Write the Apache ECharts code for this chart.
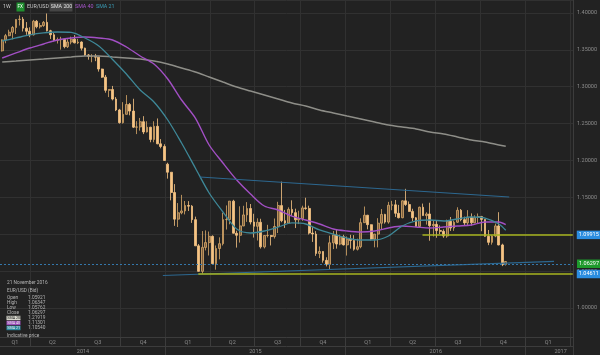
<!DOCTYPE html>
<html>
<head>
<meta charset="utf-8">
<title>EUR/USD 1W</title>
<script src="https://cdn.jsdelivr.net/npm/echarts@6/dist/echarts.min.js"></script>
<style>
  html, body { margin: 0; padding: 0; background: #222222; }
  #chart { width: 600px; height: 355px; }
</style>
</head>
<body>
<div id="chart"></div>
<script>
// time span of the x axis (one category per day)
var firstDay = '2014-01-30';
var lastDay = '2017-04-06';
var firstWeek = '2014-02-03';

// weekly candles, one row per week from firstWeek: [open, high, low, close]
var ohlc2014 = [
  [1.3487, 1.3643, 1.3477, 1.3634], [1.3634, 1.3716, 1.3589, 1.3692], [1.3692, 1.3773, 1.3685, 1.3739],
  [1.3739, 1.3823, 1.3642, 1.3803], [1.3803, 1.3915, 1.3715, 1.3912], [1.3912, 1.3967, 1.3830, 1.3916],
  [1.3916, 1.3946, 1.3749, 1.3794], [1.3794, 1.3877, 1.3704, 1.3752], [1.3752, 1.3806, 1.3672, 1.3704],
  [1.3704, 1.3906, 1.3695, 1.3888], [1.3888, 1.3905, 1.3792, 1.3813], [1.3813, 1.3866, 1.3790, 1.3830],
  [1.3830, 1.3891, 1.3812, 1.3873], [1.3873, 1.3993, 1.3750, 1.3759], [1.3759, 1.3772, 1.3648, 1.3705],
  [1.3705, 1.3731, 1.3614, 1.3630], [1.3630, 1.3667, 1.3586, 1.3637], [1.3637, 1.3677, 1.3503, 1.3643],
  [1.3643, 1.3650, 1.3521, 1.3543], [1.3543, 1.3644, 1.3525, 1.3606], [1.3606, 1.3678, 1.3575, 1.3645],
  [1.3645, 1.3700, 1.3588, 1.3595], [1.3595, 1.3649, 1.3578, 1.3606], [1.3606, 1.3616, 1.3492, 1.3523],
  [1.3523, 1.3530, 1.3418, 1.3431], [1.3431, 1.3444, 1.3367, 1.3411], [1.3411, 1.3442, 1.3332, 1.3412],
  [1.3412, 1.3445, 1.3347, 1.3401], [1.3401, 1.3405, 1.3205, 1.3240], [1.3240, 1.3245, 1.3120, 1.3130],
  [1.3130, 1.3160, 1.2919, 1.2951], [1.2951, 1.2965, 1.2860, 1.2963], [1.2963, 1.3011, 1.2815, 1.2833],
  [1.2833, 1.2860, 1.2670, 1.2685], [1.2685, 1.2700, 1.2500, 1.2513], [1.2513, 1.2791, 1.2501, 1.2626],
  [1.2626, 1.2887, 1.2623, 1.2760], [1.2760, 1.2780, 1.2613, 1.2670], [1.2670, 1.2837, 1.2440, 1.2452],
  [1.2452, 1.2533, 1.2358, 1.2455], [1.2455, 1.2577, 1.2405, 1.2526], [1.2526, 1.2601, 1.2358, 1.2387],
  [1.2387, 1.2532, 1.2380, 1.2451], [1.2451, 1.2457, 1.2247, 1.2285], [1.2285, 1.2532, 1.2247, 1.2464],
  [1.2464, 1.2570, 1.2221, 1.2226], [1.2226, 1.2290, 1.2165, 1.2190], [1.2190, 1.2220, 1.1995, 1.2000]
];
var ohlc2015 = [
  [1.1950, 1.1970, 1.1754, 1.1841], [1.1841, 1.1843, 1.1460, 1.1566], [1.1566, 1.1680, 1.1114, 1.1205],
  [1.1205, 1.1423, 1.1098, 1.1291], [1.1291, 1.1534, 1.1271, 1.1316], [1.1316, 1.1451, 1.1269, 1.1390],
  [1.1390, 1.1449, 1.1315, 1.1381], [1.1381, 1.1395, 1.1154, 1.1198], [1.1198, 1.1239, 1.0842, 1.0843],
  [1.0843, 1.0868, 1.0493, 1.0497], [1.0497, 1.1043, 1.0462, 1.0822], [1.0822, 1.1052, 1.0781, 1.0887],
  [1.0887, 1.1037, 1.0712, 1.0972], [1.0972, 1.0985, 1.0593, 1.0601], [1.0601, 1.0848, 1.0520, 1.0807],
  [1.0807, 1.0958, 1.0660, 1.0872], [1.0872, 1.1290, 1.0848, 1.1198], [1.1198, 1.1391, 1.1064, 1.1200],
  [1.1200, 1.1450, 1.1135, 1.1449], [1.1449, 1.1467, 1.1010, 1.1014], [1.1014, 1.1048, 1.0819, 1.0986],
  [1.0986, 1.1379, 1.0887, 1.1113], [1.1113, 1.1386, 1.1109, 1.1262], [1.1262, 1.1436, 1.1168, 1.1349],
  [1.1349, 1.1410, 1.1133, 1.1166], [1.1166, 1.1278, 1.0955, 1.1108], [1.1108, 1.1216, 1.0915, 1.1162],
  [1.1162, 1.1210, 1.0806, 1.0829], [1.0829, 1.0986, 1.0808, 1.0983], [1.0983, 1.1128, 1.0957, 1.0984],
  [1.0984, 1.0990, 1.0848, 1.0969], [1.0969, 1.1214, 1.0942, 1.1105], [1.1105, 1.1440, 1.1017, 1.1389],
  [1.1389, 1.1714, 1.1163, 1.1184], [1.1184, 1.1330, 1.1086, 1.1151], [1.1151, 1.1365, 1.1150, 1.1337],
  [1.1337, 1.1460, 1.1248, 1.1293], [1.1293, 1.1347, 1.1084, 1.1196], [1.1196, 1.1319, 1.1138, 1.1212],
  [1.1212, 1.1387, 1.1182, 1.1357], [1.1357, 1.1495, 1.1331, 1.1350], [1.1350, 1.1387, 1.0997, 1.1016],
  [1.1016, 1.1096, 1.0896, 1.1003], [1.1003, 1.1043, 1.0707, 1.0740], [1.0740, 1.0834, 1.0677, 1.0766],
  [1.0766, 1.0770, 1.0615, 1.0646], [1.0646, 1.0688, 1.0564, 1.0592], [1.0592, 1.0981, 1.0524, 1.0884],
  [1.0884, 1.1043, 1.0799, 1.0990], [1.0990, 1.1058, 1.0805, 1.0867], [1.0867, 1.0994, 1.0851, 1.0966],
  [1.0966, 1.0993, 1.0848, 1.0856]
];
var ohlc2016 = [
  [1.0856, 1.0970, 1.0711, 1.0932], [1.0932, 1.0993, 1.0805, 1.0917], [1.0917, 1.0988, 1.0778, 1.0797],
  [1.0797, 1.0940, 1.0780, 1.0831], [1.0831, 1.1216, 1.0810, 1.1157], [1.1157, 1.1376, 1.1156, 1.1258],
  [1.1258, 1.1263, 1.1067, 1.1130], [1.1130, 1.1135, 1.0917, 1.0933], [1.0933, 1.1005, 1.0823, 1.1002],
  [1.1002, 1.1218, 1.0822, 1.1150], [1.1150, 1.1342, 1.1058, 1.1269], [1.1269, 1.1277, 1.1144, 1.1165],
  [1.1165, 1.1439, 1.1143, 1.1393], [1.1393, 1.1453, 1.1326, 1.1399], [1.1399, 1.1465, 1.1234, 1.1284],
  [1.1284, 1.1398, 1.1215, 1.1224], [1.1224, 1.1459, 1.1217, 1.1453], [1.1453, 1.1616, 1.1384, 1.1403],
  [1.1403, 1.1445, 1.1305, 1.1310], [1.1310, 1.1346, 1.1177, 1.1223], [1.1223, 1.1233, 1.1098, 1.1106],
  [1.1106, 1.1374, 1.1098, 1.1366], [1.1366, 1.1416, 1.1251, 1.1253], [1.1253, 1.1298, 1.1131, 1.1275],
  [1.1275, 1.1427, 1.0912, 1.1117], [1.1117, 1.1186, 1.0970, 1.1134], [1.1134, 1.1186, 1.0952, 1.1050],
  [1.1050, 1.1120, 1.1003, 1.1040], [1.1040, 1.1067, 1.0952, 1.0976], [1.0976, 1.1198, 1.0952, 1.1176],
  [1.1176, 1.1234, 1.1045, 1.1085], [1.1085, 1.1185, 1.1046, 1.1163], [1.1163, 1.1366, 1.1155, 1.1325],
  [1.1325, 1.1342, 1.1176, 1.1198], [1.1198, 1.1239, 1.1123, 1.1154], [1.1154, 1.1327, 1.1122, 1.1233],
  [1.1233, 1.1283, 1.1117, 1.1155], [1.1155, 1.1257, 1.1150, 1.1227], [1.1227, 1.1282, 1.1152, 1.1240],
  [1.1240, 1.1249, 1.1041, 1.1201], [1.1201, 1.1203, 1.0967, 1.0972], [1.0972, 1.1058, 1.0852, 1.0890],
  [1.0890, 1.0987, 1.0859, 1.0975], [1.0975, 1.1145, 1.0960, 1.1113], [1.1113, 1.1299, 1.0850, 1.0855],
  [1.0855, 1.0872, 1.0568, 1.0588], [1.05921, 1.06347, 1.05762, 1.06297]
];

// moving averages, every 4 weeks
var smaDates = [
  '2014-02-03', '2014-03-03', '2014-03-31', '2014-04-28', '2014-05-26', '2014-06-23', '2014-07-21',
  '2014-08-18', '2014-09-15', '2014-10-13', '2014-11-10', '2014-12-08', '2015-01-05', '2015-02-02',
  '2015-03-02', '2015-03-30', '2015-04-27', '2015-05-25', '2015-06-22', '2015-07-20', '2015-08-17',
  '2015-09-14', '2015-10-12', '2015-11-09', '2015-12-07', '2016-01-04', '2016-02-01', '2016-02-29',
  '2016-03-28', '2016-04-25', '2016-05-23', '2016-06-20', '2016-07-18', '2016-08-15', '2016-09-12',
  '2016-10-10', '2016-11-07', '2016-11-21'
];
var sma21 = [
  1.3620, 1.3661, 1.3702, 1.3729, 1.3742, 1.3736, 1.3661, 1.3553, 1.3370, 1.3173, 1.2956, 1.2793, 1.2549,
  1.2237, 1.1898, 1.1559, 1.1302, 1.1071, 1.1017, 1.1044, 1.1098, 1.1153, 1.1139, 1.1058, 1.1003, 1.0949,
  1.0922, 1.0922, 1.0976, 1.1112, 1.1180, 1.1193, 1.1180, 1.1207, 1.1234, 1.1220, 1.1139, 1.1054
];
var sma40 = [
  1.3390, 1.3458, 1.3525, 1.3580, 1.3634, 1.3661, 1.3675, 1.3661, 1.3634, 1.3539, 1.3417, 1.3308, 1.3105,
  1.2820, 1.2576, 1.2210, 1.1966, 1.1736, 1.1546, 1.1383, 1.1329, 1.1247, 1.1193, 1.1139, 1.1071, 1.1044,
  1.1031, 1.1044, 1.1085, 1.1112, 1.1098, 1.1085, 1.1098, 1.1112, 1.1125, 1.1166, 1.1166, 1.1130
];
var sma200 = [
  1.3336, 1.3349, 1.3363, 1.3376, 1.3390, 1.3403, 1.3417, 1.3417, 1.3403, 1.3390, 1.3376, 1.3349, 1.3308,
  1.3254, 1.3200, 1.3132, 1.3064, 1.2997, 1.2942, 1.2888, 1.2834, 1.2780, 1.2739, 1.2685, 1.2644, 1.2603,
  1.2563, 1.2522, 1.2481, 1.2454, 1.2427, 1.2386, 1.2359, 1.2319, 1.2278, 1.2251, 1.2210, 1.2192
];

// price axis range
var priceMin = 0.9607, priceMax = 1.4176;

// drawn levels and trendlines
var lastPrice = 1.06297;
var levelHigh = 1.09915, levelHighFrom = '2016-06-05';
var levelLow = 1.04611, levelLowFrom = '2015-03-08';
var upperTrend = [['2015-03-11', 1.1776], ['2016-11-28', 1.1505]];
var lowerTrend = [['2014-12-26', 1.0441], ['2017-02-27', 1.0632]];

// info panel texts
var infoDate = '21 November 2016';
var infoRows = [['Open', '1.05921'], ['High', '1.06347'], ['Low', '1.05762'], ['Close', '1.06297']];
var smaRows = [['SMA 200', '1.21919'], ['SMA 40', '1.11301'], ['SMA 21', '1.10540']];

var DAY = 864e5;
function toDate(s) { var p = s.split('-'); return new Date(Date.UTC(+p[0], +p[1] - 1, +p[2])); }
function fmt(d) { return d.toISOString().slice(0, 10); }

var days = [];
for (var t = toDate(firstDay).getTime(); t <= toDate(lastDay).getTime(); t += DAY) days.push(fmt(new Date(t)));

// quarter / year boundaries and label positions (middle of visible part)
var quarterStart = {}, yearStart = {}, qRange = {}, yRange = {};
days.forEach(function (s, i) {
  var y = s.slice(0, 4), m = +s.slice(5, 7), dd = +s.slice(8, 10);
  var key = y + '-' + (Math.floor((m - 1) / 3) + 1);
  if (dd === 1 && (m - 1) % 3 === 0) quarterStart[i] = true;
  if (dd === 1 && m === 1) yearStart[i] = true;
  if (!qRange[key]) qRange[key] = [i, i];
  qRange[key][1] = i;
  if (!yRange[y]) yRange[y] = [i, i];
  yRange[y][1] = i;
});
var qLabelAt = {}, yLabelAt = {};
Object.keys(qRange).forEach(function (k) {
  var r = qRange[k];
  if (r[1] - r[0] < 20) return; // too little of the quarter is visible
  qLabelAt[Math.round((r[0] + r[1]) / 2)] = 'Q' + k.split('-')[1];
});
Object.keys(yRange).forEach(function (k) {
  yLabelAt[Math.round((yRange[k][0] + yRange[k][1]) / 2)] = k;
});

var candles = [].concat(ohlc2014, ohlc2015, ohlc2016).map(function (c, i) {
  var d = fmt(new Date(toDate(firstWeek).getTime() + i * 7 * DAY));
  return [d, c[0], c[3], c[2], c[1]];
});
function pairs(vals) { return smaDates.map(function (d, i) { return [d, vals[i]]; }); }

var FONT = 'Roboto';
var yellow = '#a7b51f', trendBlue = '#2d6890';

function tag(text, bg) {
  return {
    show: true, position: 'end', distance: 4, formatter: text,
    color: '#ffffff', backgroundColor: bg, padding: [1.5, 2, 1, 2],
    fontSize: 5.5, fontFamily: FONT
  };
}

function txt(x, y, s, fill, size) {
  return { type: 'text', x: x, y: y, z: 100, silent: true,
    style: { text: s, fill: fill || '#b5b5b5', fontSize: size || 4.8, fontFamily: FONT, verticalAlign: 'middle' } };
}
function box(x, y, w, h, fill) {
  return { type: 'rect', z: 99, silent: true, shape: { x: x, y: y, width: w, height: h }, style: { fill: fill } };
}

var smaColors = [['#d6d6cc', '#222222'], ['#9a4db8', '#eeeeee'], ['#2f8aa0', '#eeeeee']];
var graphics = [
  txt(3, 7, '1W', '#c4c4c4', 5.3),
  box(16.5, 2.5, 8, 9, '#1f8f2f'), txt(17.5, 7.2, 'FX', '#ffffff', 4.6),
  txt(27, 7, 'EUR/USD', '#c4c4c4', 5.3),
  box(49.5, 2.5, 23, 9, '#454545'), txt(50.8, 7, 'SMA 200', '#e0e0e0', 5.3),
  txt(75, 7, 'SMA 40', '#a755cc', 5.3),
  txt(96, 7, 'SMA 21', '#3a9cb6', 5.3),
  txt(7, 283, infoDate), txt(7, 291, 'EUR/USD (Bid)')
];
infoRows.forEach(function (r, i) {
  graphics.push(txt(7, 298 + i * 5, r[0]), txt(28, 298 + i * 5, r[1]));
});
smaRows.forEach(function (r, i) {
  var y = 318 + i * 5;
  graphics.push(box(6.5, y - 2.2, 14, 4.4, smaColors[i][0]), txt(7.2, y, r[0], smaColors[i][1], 3.7),
    txt(28, y, r[1]));
});
graphics.push(txt(7, 336, 'Indicative price'));

var chart = echarts.init(document.getElementById('chart'));
chart.setOption({
  backgroundColor: '#222222',
  animation: false,
  textStyle: { fontFamily: FONT },
  grid: { left: 0, right: 26, top: 0, bottom: 18 },
  xAxis: [{
    type: 'category', data: days, boundaryGap: true,
    axisLine: { show: true, lineStyle: { color: '#3c3c3c' } },
    axisTick: { show: true, length: 9, interval: function (i) { return !!quarterStart[i]; }, lineStyle: { color: '#3c3c3c' } },
    axisLabel: {
      interval: function (i) { return qLabelAt[i] != null; },
      formatter: function (v, i) { return qLabelAt[i] || ''; },
      color: '#8c8c8c', fontSize: 5.5, margin: 2.5
    },
    splitLine: { show: true, interval: function (i) { return !!quarterStart[i]; }, lineStyle: { color: '#313131' } }
  }, {
    type: 'category', data: days, boundaryGap: true, position: 'bottom', offset: 9,
    axisLine: { show: true, lineStyle: { color: '#3c3c3c' } },
    axisTick: { show: true, length: 9, interval: function (i) { return !!yearStart[i]; }, lineStyle: { color: '#3c3c3c' } },
    axisLabel: {
      interval: function (i) { return yLabelAt[i] != null; },
      formatter: function (v, i) { return yLabelAt[i] === '2017' ? '{r|2017}' : (yLabelAt[i] || ''); },
      rich: { r: { padding: [0, 0, 0, 22], fontSize: 5.5, color: '#8c8c8c' } },
      color: '#8c8c8c', fontSize: 5.5, margin: 2.5
    },
    splitLine: { show: false }
  }],
  yAxis: {
    type: 'value', position: 'right', min: priceMin, max: priceMax, splitNumber: 9, scale: true,
    axisLine: { show: true, lineStyle: { color: '#3c3c3c' } },
    axisTick: { show: false },
    axisLabel: { showMinLabel: false, showMaxLabel: false, color: '#8c8c8c', fontSize: 5.5, margin: 4,
      formatter: function (v) { return v.toFixed(5); } },
    splitLine: { lineStyle: { color: '#313131' } }
  },
  graphic: graphics,
  series: [{
    name: 'EUR/USD', type: 'candlestick', data: candles,
    encode: { x: 0, y: [1, 2, 3, 4] },
    barWidth: 2.3,
    itemStyle: { color: '#7d6040', color0: '#f6c484', borderColor: '#d8a868', borderColor0: '#f6c484', borderWidth: 0.8 },
    markLine: {
      silent: true, symbol: ['none', 'none'], animation: false,
      label: { show: false },
      data: [
        [{ coord: upperTrend[0], lineStyle: { color: trendBlue, width: 1.2, type: 'solid' } }, { coord: upperTrend[1] }],
        [{ coord: lowerTrend[0], lineStyle: { color: trendBlue, width: 1.2, type: 'solid' } }, { coord: lowerTrend[1] }],
        { yAxis: lastPrice, lineStyle: { color: '#3477ab', width: 1, type: [2, 2] }, label: tag(lastPrice.toFixed(5), '#1e9a2c') },
        [{ coord: [levelHighFrom, levelHigh], lineStyle: { color: yellow, width: 1.6, type: 'solid' } },
         { coord: [lastDay, levelHigh], label: tag(levelHigh.toFixed(5), '#2b8de0') }],
        [{ coord: [levelLowFrom, levelLow], lineStyle: { color: yellow, width: 1.6, type: 'solid' } },
         { coord: [lastDay, levelLow], label: tag(levelLow.toFixed(5), '#2b8de0') }]
      ]
    }
  }, {
    name: 'SMA 200', type: 'line', data: pairs(sma200), smooth: 0.3, symbol: 'none',
    lineStyle: { color: '#8e8e88', width: 1.5 }
  }, {
    name: 'SMA 40', type: 'line', data: pairs(sma40), smooth: 0.3, symbol: 'none',
    lineStyle: { color: '#a24fc4', width: 1.4 }
  }, {
    name: 'SMA 21', type: 'line', data: pairs(sma21), smooth: 0.3, symbol: 'none',
    lineStyle: { color: '#3e8898', width: 1.3 }
  }]
});
</script>
</body>
</html>
